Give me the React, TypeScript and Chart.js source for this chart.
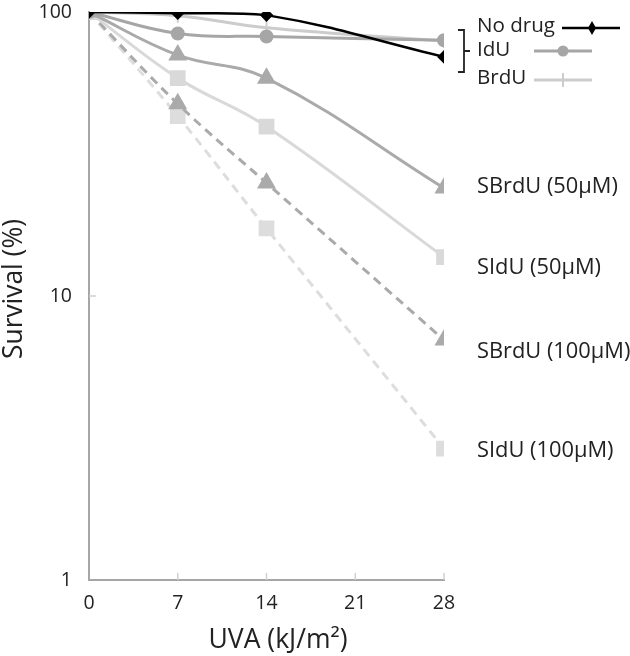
import React, { useEffect, useRef } from "react";
import { Chart, registerables } from "chart.js";

Chart.register(...registerables);

const doses = [0, 7, 14, 28];
const noDrug = [100, 99, 97.5, 69.5];
const idu = [100, 84, 82, 79.5];
const brdu = [100, 97, 88, 79];
const sbrdu50 = [100, 70.5, 58.5, 24];
const sidu50 = [100, 58.5, 39.5, 13.7];
const sbrdu100 = [100, 47.5, 25, 7];
const sidu100 = [100, 43, 17.3, 2.9];

const xTicks = [0, 7, 14, 21, 28];
const yTicks = [1, 10, 100];

const seriesLabels = ["SBrdU (50μM)", "SIdU (50μM)", "SBrdU (100μM)", "SIdU (100μM)"];
const legendLabels = ["No drug", "IdU", "BrdU"];
const xTitle = "UVA (kJ/m²)";
const yTitle = "Survival (%)";

const FONT = "'Open Sans', 'DejaVu Sans', sans-serif";

const pts = (vals: number[]) => doses.map((d, i) => ({ x: d, y: vals[i] }));

function fitSize(ctx: CanvasRenderingContext2D, text: string, target: number) {
  ctx.font = `20px ${FONT}`;
  const w = ctx.measureText(text).width;
  return (20 * target) / w;
}

export default function App() {
  const ref = useRef<HTMLCanvasElement | null>(null);
  useEffect(() => {
    if (!ref.current) return;
    const annot = {
      id: "annot",
      afterDraw(chart: any) {
        const ctx = chart.ctx;
        const xs = chart.scales.x;
        const ys = chart.scales.y;
        ctx.save();
        // inside tick marks
        ctx.strokeStyle = "#d0d0d0";
        ctx.lineWidth = 1.5;
        xTicks.slice(1).forEach((t) => {
          const px = xs.getPixelForValue(t);
          ctx.beginPath();
          ctx.moveTo(px, ys.bottom);
          ctx.lineTo(px, ys.bottom - 7);
          ctx.stroke();
        });
        const py10 = ys.getPixelForValue(10);
        ctx.beginPath();
        ctx.moveTo(xs.left, py10);
        ctx.lineTo(xs.left + 7, py10);
        ctx.stroke();

        ctx.fillStyle = "#222";
        ctx.textBaseline = "middle";
        ctx.textAlign = "left";
        // series labels
        const sSize = fitSize(ctx, seriesLabels[0], 141);
        ctx.font = `${sSize}px ${FONT}`;
        const labY = [187, 268, 352, 451];
        seriesLabels.forEach((l, i) => ctx.fillText(l, 477, labY[i]));
        // legend
        const lSize = fitSize(ctx, legendLabels[0], 78);
        ctx.font = `${lSize}px ${FONT}`;
        const legY = [26, 50, 78];
        legendLabels.forEach((l, i) => ctx.fillText(l, 477, legY[i]));
        // axis titles
        const xtSize = fitSize(ctx, xTitle, 139);
        ctx.font = `${xtSize}px ${FONT}`;
        ctx.textAlign = "center";
        ctx.fillText(xTitle, 278, 640);
        const ytSize = fitSize(ctx, yTitle, 140);
        ctx.font = `${ytSize}px ${FONT}`;
        ctx.save();
        ctx.translate(14, 289);
        ctx.rotate(-Math.PI / 2);
        ctx.fillText(yTitle, 0, 0);
        ctx.restore();
        ctx.textAlign = "left";
        // No drug sample
        ctx.strokeStyle = "#000";
        ctx.lineWidth = 2.5;
        ctx.beginPath();
        ctx.moveTo(562, 28);
        ctx.lineTo(620, 28);
        ctx.stroke();
        ctx.fillStyle = "#000";
        ctx.beginPath();
        ctx.moveTo(592, 21);
        ctx.lineTo(596, 28);
        ctx.lineTo(592, 35);
        ctx.lineTo(588, 28);
        ctx.closePath();
        ctx.fill();
        // IdU sample
        ctx.strokeStyle = "#a6a6a6";
        ctx.lineWidth = 3;
        ctx.beginPath();
        ctx.moveTo(534, 51);
        ctx.lineTo(592, 51);
        ctx.stroke();
        ctx.fillStyle = "#a6a6a6";
        ctx.beginPath();
        ctx.arc(563, 51, 5.5, 0, Math.PI * 2);
        ctx.fill();
        // BrdU sample
        ctx.strokeStyle = "#cccccc";
        ctx.beginPath();
        ctx.moveTo(534, 80);
        ctx.lineTo(592, 80);
        ctx.stroke();
        ctx.lineWidth = 2;
        ctx.beginPath();
        ctx.moveTo(563, 73);
        ctx.lineTo(563, 87);
        ctx.stroke();
        // bracket
        ctx.strokeStyle = "#222";
        ctx.lineWidth = 1.8;
        ctx.beginPath();
        ctx.moveTo(458, 30);
        ctx.lineTo(464, 30);
        ctx.lineTo(464, 72);
        ctx.lineTo(458, 72);
        ctx.moveTo(464, 51);
        ctx.lineTo(470, 51);
        ctx.stroke();
        ctx.restore();
      },
    };

    const chart = new Chart(ref.current, {
      type: "line",
      data: {
        datasets: [
          {
            label: "No drug",
            data: pts(noDrug),
            borderColor: "#000",
            backgroundColor: "#000",
            borderWidth: 2.5,
            pointStyle: "rectRot",
            pointRadius: 5,
            tension: 0.4,
          },
          {
            label: "IdU",
            data: pts(idu),
            borderColor: "#a6a6a6",
            backgroundColor: "#a6a6a6",
            borderWidth: 3,
            pointStyle: "circle",
            pointRadius: 5.5,
            tension: 0.4,
          },
          {
            label: "BrdU",
            data: pts(brdu),
            borderColor: "#cccccc",
            backgroundColor: "#cccccc",
            borderWidth: 3,
            pointStyle: "line",
            rotation: 90,
            pointRadius: 7,
            pointBorderWidth: 2,
            tension: 0.4,
          },
          {
            label: "SBrdU (50μM)",
            data: pts(sbrdu50),
            borderColor: "#aaaaaa",
            backgroundColor: "#aaaaaa",
            borderWidth: 3,
            pointStyle: "triangle",
            pointRadius: 8,
            tension: 0.4,
          },
          {
            label: "SIdU (50μM)",
            data: pts(sidu50),
            borderColor: "#d9d9d9",
            backgroundColor: "#d9d9d9",
            borderWidth: 3,
            pointStyle: "rect",
            pointRadius: 9,
            tension: 0.4,
          },
          {
            label: "SBrdU (100μM)",
            data: pts(sbrdu100),
            borderColor: "#aaaaaa",
            backgroundColor: "#aaaaaa",
            borderWidth: 3,
            borderDash: [9, 6],
            pointStyle: "triangle",
            pointRadius: 8,
            tension: 0.4,
          },
          {
            label: "SIdU (100μM)",
            data: pts(sidu100),
            borderColor: "#dddddd",
            backgroundColor: "#dddddd",
            borderWidth: 3,
            borderDash: [9, 6],
            pointStyle: "rect",
            pointRadius: 9,
            tension: 0.4,
          },
        ],
      },
      options: {
        responsive: false,
        animation: false,
        devicePixelRatio: 1,
        layout: { padding: { left: 0, top: 10, right: 186, bottom: 0 } },
        plugins: { legend: { display: false }, tooltip: { enabled: false } },
        scales: {
          x: {
            type: "linear",
            min: 0,
            max: 28,
            afterBuildTicks: (s: any) => {
              s.ticks = xTicks.map((v) => ({ value: v }));
            },
            afterFit: (s: any) => {
              s.height = 76;
            },
            grid: { display: false, drawTicks: false },
            border: { display: true, color: "#a6a6a6", width: 2 },
            ticks: { padding: 12, color: "#222", font: { family: FONT, size: 19.5 } },
            title: { display: false },
          },
          y: {
            type: "logarithmic",
            min: 1,
            max: 100,
            afterBuildTicks: (s: any) => {
              s.ticks = yTicks.map((v) => ({ value: v }));
            },
            afterFit: (s: any) => {
              s.width = 89;
              s.paddingTop = 0;
              s.paddingBottom = 0;
            },
            grid: { display: false, drawTicks: false },
            border: { display: true, color: "#a6a6a6", width: 2 },
            ticks: {
              padding: 17,
              color: "#222",
              font: { family: FONT, size: 19.5 },
              callback: (v: any) => String(v),
            },
            title: { display: false },
          },
        },
      },
      plugins: [annot],
    } as any);
    return () => chart.destroy();
  }, []);
  return (
    <div style={{ position: "absolute", left: 0, top: 0, width: 630, height: 656, background: "#fff" }}>
      <canvas ref={ref} width={630} height={656} />
    </div>
  );
}
